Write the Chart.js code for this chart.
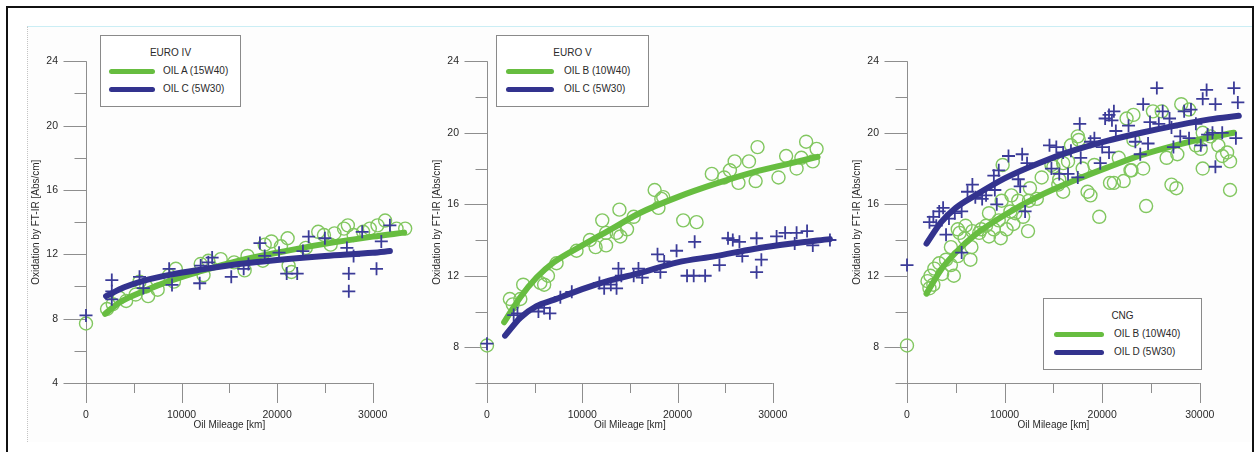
<!DOCTYPE html>
<html>
<head>
<meta charset="utf-8">
<title>Oxidation vs oil mileage</title>
<script src="https://cdn.jsdelivr.net/npm/chart.js@4.4.1/dist/chart.umd.min.js"></script>
<style>
  body { margin: 0; background: #fff; font-family: "Liberation Sans", Arial, sans-serif; }
  #frame { position: absolute; left: 6px; top: 6px; width: 1244px; height: 450px; border: 2px solid #111; border-bottom: none; }
  #sheet { position: absolute; left: 27px; top: 26px; width: 1224px; height: 415px; border-top: 1px solid #cbeef5; border-left: 1px dotted #c4c4c4; background: #fdfdfd; }
  canvas { position: absolute; top: 27px; }
  .legend { position: absolute; height: 70px; border: 1px solid #8a8a8a; background: #fff; color: #2a2a2a; font-size: 10px; }
  .legend .title { position: absolute; left: 0; right: 0; top: 11px; line-height: 12px; text-align: center; font-size: 10px; }
  .legend .swatch { position: absolute; height: 5px; border-radius: 3px; }
  .legend .label { position: absolute; line-height: 12px; white-space: nowrap; }
</style>
</head>
<body>
<div id="frame"></div>
<div id="sheet"></div>
<canvas id="euro4" width="398" height="418" style="left:26px"></canvas>
<canvas id="euro5" width="416" height="418" style="left:427px"></canvas>
<canvas id="cng" width="405" height="418" style="left:847px"></canvas>
<script>
// axis ticks
const xLabels = [0, 10000, 20000, 30000];
const xMinor = [5000, 15000, 25000];
const yLabelsEuro4 = [4, 8, 12, 16, 20, 24];
const yMinorEuro4 = [6, 10, 14, 18, 22];
const yLabelsOther = [8, 12, 16, 20, 24];
const yMinorOther = [6, 10, 14, 18, 22];

// EURO IV - OIL A (15W40), measured
const e4OilAKm = [0, 2200, 2800, 3500, 4200, 5200, 5600, 6300, 6500, 7500, 8700, 9200, 9400, 12000, 12300, 12800, 14100, 15500, 16600, 16900, 18500, 18700, 19400, 20400, 21100, 21200, 21500, 23000, 24300, 24900, 25600, 26000, 27000, 27400, 28000, 29000, 29700, 30500, 31300, 32500, 33400];
const e4OilAOx = [7.7, 8.6, 8.9, 9.3, 9.1, 9.5, 10.3, 10.0, 9.4, 9.8, 10.7, 10.3, 11.1, 11.4, 10.7, 11.6, 11.7, 11.5, 11.0, 11.9, 11.6, 12.6, 12.8, 12.5, 13.0, 11.3, 10.9, 12.4, 13.4, 13.2, 12.6, 13.3, 13.6, 13.8, 13.2, 13.4, 13.6, 13.8, 14.1, 13.6, 13.6];
// EURO IV - OIL C (5W30), measured
const e4OilCKm = [0, 2700, 2700, 2700, 5600, 6000, 8700, 9000, 11900, 12000, 12800, 13200, 15200, 16500, 17000, 18200, 18700, 20200, 21000, 22100, 22700, 23300, 25000, 27300, 27500, 27500, 28000, 28900, 30400, 30900, 31800];
const e4OilCOx = [8.2, 10.4, 9.7, 9.2, 10.6, 9.9, 11.1, 10.1, 10.2, 11.3, 11.5, 11.8, 10.6, 11.1, 11.4, 12.7, 11.9, 12.1, 10.8, 10.8, 12.2, 13.1, 13.0, 12.4, 10.8, 9.7, 11.9, 13.4, 11.1, 12.8, 13.8];
// EURO IV - fitted trends
const e4FitAKm = [2000, 3500, 6000, 9000, 12000, 16000, 20000, 25000, 30000, 33300];
const e4FitAOx = [8.3, 9.0, 9.7, 10.4, 10.95, 11.6, 12.1, 12.65, 13.1, 13.35];
const e4FitCKm = [2100, 4000, 6000, 9000, 12000, 16000, 20000, 25000, 30000, 31800];
const e4FitCOx = [9.4, 9.95, 10.35, 10.75, 11.05, 11.4, 11.65, 11.9, 12.1, 12.2];

// EURO V - OIL B (10W40), measured
const e5OilBKm = [0, 2400, 2700, 3500, 3800, 5600, 6000, 6400, 7300, 9400, 10800, 11400, 12100, 12500, 12500, 13600, 13900, 14000, 14700, 15400, 17600, 18000, 18300, 18500, 20600, 22000, 23600, 24900, 25500, 26000, 26400, 27500, 28200, 28400, 30600, 31400, 32500, 33000, 33500, 34200, 34600];
const e5OilBOx = [8.1, 10.7, 10.4, 10.7, 11.5, 11.6, 11.5, 12.0, 12.7, 13.4, 14.0, 13.6, 15.1, 13.7, 14.4, 14.4, 15.7, 14.2, 14.6, 15.3, 16.8, 15.8, 16.3, 16.4, 15.1, 15.0, 17.7, 17.5, 17.9, 18.4, 17.2, 18.4, 17.3, 19.2, 17.5, 18.7, 18.0, 18.6, 19.5, 18.4, 19.1];
// EURO V - OIL C (5W30), measured
const e5OilCKm = [0, 2800, 3200, 5400, 6000, 6600, 7700, 8900, 11800, 12300, 13000, 13600, 13800, 14100, 15400, 15900, 16300, 17900, 18200, 18600, 19900, 21000, 21700, 21800, 22900, 24400, 25300, 25800, 26500, 26800, 28300, 28300, 28800, 30400, 31300, 32300, 32500, 33600, 34200, 36000];
const e5OilCOx = [8.2, 9.8, 9.9, 10.0, 10.2, 9.9, 10.8, 11.1, 11.6, 11.3, 11.5, 11.3, 12.4, 12.0, 12.0, 12.4, 11.9, 13.2, 12.2, 12.8, 13.4, 12.0, 12.0, 13.9, 12.0, 12.6, 14.1, 14.0, 13.9, 13.1, 14.1, 12.2, 12.9, 14.2, 14.4, 13.8, 14.4, 14.5, 13.7, 14.0];
// EURO V - fitted trends
const e5FitBKm = [1800, 3500, 5200, 7000, 10000, 13000, 16000, 20000, 24000, 28000, 31500, 34700];
const e5FitBOx = [9.4, 10.8, 11.9, 12.75, 13.7, 14.6, 15.5, 16.4, 17.15, 17.8, 18.25, 18.65];
const e5FitCKm = [1900, 3500, 5200, 7000, 10000, 13000, 16000, 20000, 24000, 28000, 32000, 36000];
const e5FitCOx = [8.65, 9.65, 10.3, 10.65, 11.25, 11.75, 12.15, 12.75, 13.1, 13.5, 13.8, 14.05];

// CNG - OIL B (10W40), measured
const cngOilBKm = [0, 2100, 2300, 2400, 2700, 2800, 3300, 3600, 4000, 4500, 4800, 4500, 5200, 5200, 5400, 5900, 6000, 6500, 6600, 6700, 7400, 7600, 8100, 8400, 8400, 8900, 9400, 9600, 9700, 9800, 10200, 10600, 10700, 10900, 11100, 11400, 11900, 12400, 12500, 12600, 13300, 13800, 14800, 15000, 15500, 15600, 16000, 16000, 16500, 16800, 17500, 17600, 18000, 18500, 18800, 19200, 19700, 20800, 21200, 21700, 22200, 22500, 22900, 23000, 23200, 23200, 24200, 24500, 25200, 26100, 26600, 27100, 27600, 27700, 28100, 28900, 29600, 30100, 30300, 30300, 31100, 31900, 32300, 32800, 33100, 33100];
const cngOilBOx = [8.1, 11.7, 11.3, 12.0, 11.5, 12.4, 12.7, 12.1, 12.9, 12.6, 12.0, 13.6, 13.1, 14.6, 14.4, 14.1, 14.8, 12.9, 13.6, 14.5, 14.4, 14.6, 14.8, 15.5, 14.2, 14.6, 15.1, 14.1, 16.2, 18.2, 14.6, 15.6, 16.5, 14.9, 15.5, 16.2, 15.3, 14.5, 16.2, 16.9, 16.3, 17.5, 18.2, 18.1, 17.1, 17.4, 16.7, 18.3, 18.4, 19.3, 19.8, 19.6, 18.0, 16.7, 16.5, 18.2, 15.3, 17.2, 17.2, 18.6, 17.3, 20.8, 17.9, 17.9, 19.6, 21.0, 18.0, 15.9, 21.2, 21.2, 18.6, 17.1, 16.9, 18.8, 21.6, 21.3, 19.3, 19.1, 18.0, 20.0, 19.8, 19.3, 18.7, 18.9, 18.4, 16.8];
// CNG - OIL D (5W30), measured
const cngOilDKm = [0, 2300, 2700, 3000, 3300, 3700, 4000, 4300, 4900, 5600, 5600, 6200, 6700, 7000, 7700, 8100, 8900, 9000, 9200, 9400, 10400, 11400, 11600, 11800, 12100, 12300, 14600, 14800, 15300, 15600, 16000, 16500, 16800, 17500, 17700, 17800, 18800, 19200, 19800, 20000, 20300, 20700, 20700, 21000, 21200, 21400, 22700, 23400, 23900, 24200, 24700, 24900, 25600, 25800, 26200, 26900, 27100, 27300, 28000, 28400, 28900, 29100, 29600, 30100, 30300, 30700, 30800, 31300, 31600, 31600, 32300, 33500, 33700, 33900];
const cngOilDOx = [12.6, 15.0, 15.3, 14.8, 15.6, 15.8, 14.3, 15.2, 15.5, 15.6, 13.3, 16.7, 17.1, 16.4, 16.3, 16.5, 17.6, 16.8, 16.0, 17.9, 18.7, 17.4, 17.0, 18.8, 15.6, 18.3, 19.3, 18.0, 19.2, 17.7, 18.9, 17.7, 19.0, 17.5, 20.5, 18.6, 19.5, 19.7, 18.3, 19.2, 20.8, 21.0, 18.9, 20.7, 21.2, 20.1, 20.4, 19.5, 18.8, 21.6, 19.4, 20.6, 22.5, 20.5, 21.2, 20.8, 20.3, 19.2, 19.8, 21.2, 19.7, 21.3, 20.5, 19.3, 21.9, 22.4, 19.9, 20.0, 21.6, 18.1, 20.0, 22.5, 19.7, 21.7];
// CNG - fitted trends
const cngFitBKm = [2000, 3500, 5000, 7000, 10000, 13500, 17000, 20500, 24000, 27500, 31000, 33500];
const cngFitBOx = [11.0, 12.35, 13.3, 14.3, 15.4, 16.45, 17.3, 18.05, 18.75, 19.3, 19.75, 20.0];
const cngFitDKm = [2000, 3500, 5000, 7000, 10000, 13500, 17000, 20500, 24000, 27500, 31000, 34000];
const cngFitDOx = [13.8, 15.0, 15.8, 16.5, 17.45, 18.3, 19.0, 19.55, 20.0, 20.4, 20.75, 20.95];

const GREEN = '#67bd40';
const GREEN_MARK = '#82c760';
const BLUE = '#33338e';
const BLUE_MARK = '#3b3b98';
const TEXT = '#2a2a2a';
const FONT = '"Liberation Sans", Arial, sans-serif';

const zip = (xs, ys) => xs.map((x, i) => ({ x, y: ys[i] }));

// Igor-style axes: y axis on x = 0 with outward ticks, x axis along y min
const igorAxes = {
  id: 'igorAxes',
  beforeDatasetsDraw(chart, args, opts) {
    const { ctx } = chart;
    const xs = chart.scales.x, ys = chart.scales.y;
    const x0 = xs.getPixelForValue(0);
    const yb = ys.getPixelForValue(ys.min);
    const yt = ys.getPixelForValue(ys.max);
    const seg = (a, b, c, d) => { ctx.beginPath(); ctx.moveTo(a, b); ctx.lineTo(c, d); ctx.stroke(); };
    ctx.save();
    ctx.strokeStyle = '#8e8e8e';
    ctx.lineWidth = 1;
    const px = Math.round(x0) + 0.5;
    const pyb = Math.round(yb) + 0.5;
    seg(px, yt, px, yb);
    opts.yMajor.forEach(v => { const p = Math.round(ys.getPixelForValue(v)) + 0.5; seg(px - 23, p, px, p); });
    opts.yMinor.forEach(v => { const p = Math.round(ys.getPixelForValue(v)) + 0.5; seg(px - 12, p, px, p); });
    const xEnd = xs.getPixelForValue(xLabels[xLabels.length - 1]);
    seg(px, pyb, xEnd, pyb);
    xLabels.forEach(v => { const p = Math.round(xs.getPixelForValue(v)) + 0.5; seg(p, yb, p, yb + 20); });
    xMinor.forEach(v => { const p = Math.round(xs.getPixelForValue(v)) + 0.5; seg(p, yb, p, yb + 10); });
    // x axis title, centred under the labelled span
    ctx.fillStyle = TEXT;
    ctx.font = '10px ' + FONT;
    ctx.textAlign = 'center';
    ctx.textBaseline = 'middle';
    ctx.fillText('Oil Mileage [km]', (x0 + xEnd) / 2, yb + 42.5);
    ctx.restore();
  }
};

const panels = [
  {
    id: 'euro4', plotWidth: 334, xMax: 34500, yMin: 4, yLabels: yLabelsEuro4, yMinor: yMinorEuro4,
    circles: zip(e4OilAKm, e4OilAOx), crosses: zip(e4OilCKm, e4OilCOx),
    fitGreen: zip(e4FitAKm, e4FitAOx), fitBlue: zip(e4FitCKm, e4FitCOx),
    greenName: 'OIL A (15W40)', blueName: 'OIL C (5W30)', legendTitle: 'EURO IV',
    legend: { left: 100, top: 35, width: 139, swatchLeft: 8, swatchWidth: 46, labelLeft: 62 }
  },
  {
    id: 'euro5', plotWidth: 348, xMax: 36500, yMin: 6, yLabels: yLabelsOther, yMinor: yMinorOther,
    circles: zip(e5OilBKm, e5OilBOx), crosses: zip(e5OilCKm, e5OilCOx),
    fitGreen: zip(e5FitBKm, e5FitBOx), fitBlue: zip(e5FitCKm, e5FitCOx),
    greenName: 'OIL B (10W40)', blueName: 'OIL C (5W30)', legendTitle: 'EURO V',
    legend: { left: 496, top: 35, width: 151, swatchLeft: 9, swatchWidth: 48, labelLeft: 67 }
  },
  {
    id: 'cng', plotWidth: 342, xMax: 34500, yMin: 6, yLabels: yLabelsOther, yMinor: yMinorOther,
    circles: zip(cngOilBKm, cngOilBOx), crosses: zip(cngOilDKm, cngOilDOx),
    fitGreen: zip(cngFitBKm, cngFitBOx), fitBlue: zip(cngFitDKm, cngFitDOx),
    greenName: 'OIL B (10W40)', blueName: 'OIL D (5W30)', legendTitle: 'CNG',
    legend: { left: 1043, top: 298, width: 157, swatchLeft: 10, swatchWidth: 50, labelLeft: 70 }
  }
];

function buildLegend(chart, p) {
  const box = document.createElement('div');
  box.className = 'legend';
  box.style.left = p.legend.left + 'px';
  box.style.top = p.legend.top + 'px';
  box.style.width = p.legend.width + 'px';
  const title = document.createElement('div');
  title.className = 'title';
  title.textContent = p.legendTitle;
  box.appendChild(title);
  chart.data.datasets.filter(d => d.showLine).forEach((d, i) => {
    const rowMid = 35 + i * 18;
    const sw = document.createElement('div');
    sw.className = 'swatch';
    sw.style.left = p.legend.swatchLeft + 'px';
    sw.style.width = p.legend.swatchWidth + 'px';
    sw.style.top = (rowMid - 2.5) + 'px';
    sw.style.background = d.borderColor;
    const lb = document.createElement('div');
    lb.className = 'label';
    lb.style.left = p.legend.labelLeft + 'px';
    lb.style.top = (rowMid - 6) + 'px';
    lb.textContent = d.label;
    box.appendChild(sw);
    box.appendChild(lb);
  });
  document.body.appendChild(box);
}

panels.forEach(p => {
  const canvas = document.getElementById(p.id);
  const chart = new Chart(canvas.getContext('2d'), {
    type: 'scatter',
    data: {
      datasets: [
        {
          data: p.circles, pointStyle: 'circle', pointRadius: 6.5, pointBorderWidth: 1.4,
          pointBorderColor: GREEN_MARK, pointBackgroundColor: 'rgba(0,0,0,0)', order: 4, clip: false
        },
        {
          data: p.crosses, pointStyle: 'cross', pointRadius: 6.5, pointBorderWidth: 1.8,
          pointBorderColor: BLUE_MARK, order: 2, clip: false
        },
        {
          label: p.greenName, data: p.fitGreen, showLine: true, pointRadius: 0,
          borderColor: GREEN, borderWidth: 6, borderCapStyle: 'round',
          cubicInterpolationMode: 'monotone', order: 3, clip: false
        },
        {
          label: p.blueName, data: p.fitBlue, showLine: true, pointRadius: 0,
          borderColor: BLUE, borderWidth: 6, borderCapStyle: 'round',
          cubicInterpolationMode: 'monotone', order: 1, clip: false
        }
      ]
    },
    options: {
      responsive: false,
      animation: false,
      devicePixelRatio: 1,
      events: [],
      layout: { padding: { top: 8, left: 0, bottom: 10, right: canvas.width - 60 - p.plotWidth } },
      plugins: {
        legend: { display: false },
        tooltip: { enabled: false },
        igorAxes: { yMajor: p.yLabels, yMinor: p.yMinor }
      },
      scales: {
        x: {
          type: 'linear', min: 0, max: p.xMax,
          afterBuildTicks: s => { s.ticks = xLabels.map(v => ({ value: v })); },
          afterFit: s => { s.height = 52; },
          grid: { display: false, drawTicks: false },
          border: { display: false },
          ticks: {
            padding: 26, color: TEXT, maxRotation: 0, autoSkip: false,
            font: { family: FONT, size: 10.5 },
            callback: v => String(v)
          }
        },
        y: {
          type: 'linear', min: p.yMin, max: 24,
          afterBuildTicks: s => { s.ticks = p.yLabels.map(v => ({ value: v })); },
          afterFit: s => { s.width = 60; },
          grid: { display: false, drawTicks: false },
          border: { display: false },
          ticks: {
            padding: 28, color: TEXT,
            font: { family: FONT, size: 10.5 },
            callback: v => String(v)
          },
          title: {
            display: true, text: 'Oxidation by FT-IR [Abs/cm]', color: TEXT,
            padding: { top: 4, bottom: 0 },
            font: { family: FONT, size: 10 }
          }
        }
      }
    },
    plugins: [igorAxes]
  });
  buildLegend(chart, p);
});
</script>
</body>
</html>
